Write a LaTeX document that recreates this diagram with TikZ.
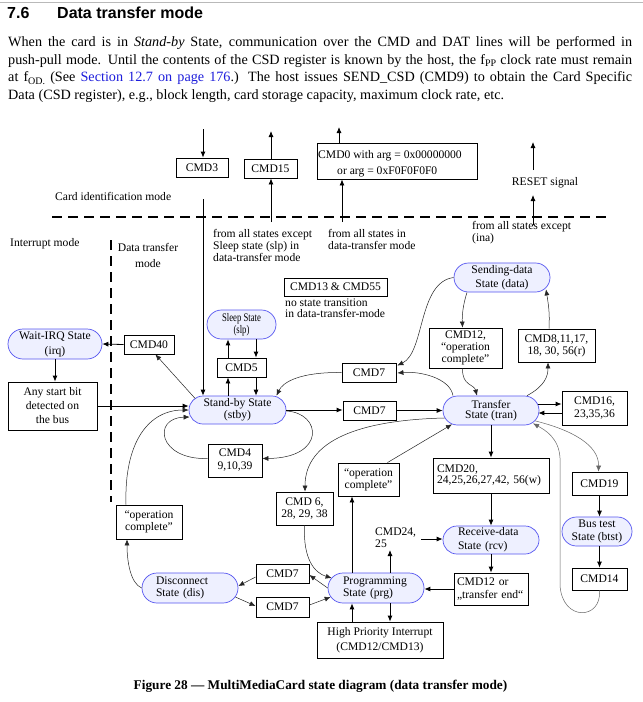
\documentclass[tikz,border=0pt]{standalone}
\usepackage{fontspec}
\setmainfont{Liberation Serif}
\newfontfamily\headfam{Liberation Sans}
\usepackage{graphicx}
\usetikzlibrary{arrows.meta,shapes.misc,calc}
\definecolor{stblue}{RGB}{85,85,240}
\definecolor{stfill}{RGB}{238,240,255}
\definecolor{linkblue}{RGB}{30,30,220}
\newcommand\dgmfont{\fontsize{11.6}{12.5}\selectfont}
\newcommand\bodyfont{\fontsize{14.2}{17.7}\selectfont}
\newcommand\subsc[1]{\raisebox{-2.5pt}{\fontsize{10}{10}\selectfont #1}}
\newcommand\condensed[1]{\scalebox{0.75}[1]{#1}}
\tikzset{
  box/.style={draw, line width=0.8pt, inner sep=0pt, align=center, font=\dgmfont},
  st/.style={draw=stblue, fill=stfill, rounded rectangle, line width=0.7pt, inner sep=0pt, align=center, font=\dgmfont},
  lbl/.style={inner sep=0pt, font=\dgmfont, align=left},
  bs/.style={font=\fontsize{11.6}{#1}\selectfont},
  arr/.style={-{Latex[length=6pt,width=5pt]}, line width=0.8pt},
  crv/.style={-{Latex[length=6pt,width=5pt]}, line width=0.5pt, draw=black!85},
  gcrv/.style={-{Latex[length=6pt,width=5pt]}, line width=0.5pt, draw=black!60},
  dashline/.style={line width=2pt, dash pattern=on 10pt off 6pt},
}
\begin{document}
\begin{tikzpicture}[x=1pt, y=-1pt]
\fill[white] (0,0) rectangle (643,702);
\useasboundingbox (0,0) rectangle (643,702);
\draw[gray!55, line width=1.2pt] (0,2.5) -- (643,2.5);

% heading and body text
\node[anchor=base west, inner sep=0pt, font=\headfam\bfseries\fontsize{16}{16}\selectfont] (h1) at (7,18.5) {7.6};
\node[anchor=base west, inner sep=0pt, font=\headfam\bfseries\fontsize{16}{16}\selectfont] (h2) at (57,18.5) {Data transfer mode};
\node[anchor=base west, inner sep=0pt, font=\bodyfont] (t1) at (8,46.5) {\makebox[624pt][s]{When the card is in \textit{Stand-by} State, communication over the CMD and DAT lines will be performed in}};
\node[anchor=base west, inner sep=0pt, font=\bodyfont] (t2) at (8,64.2) {\makebox[624pt][s]{push-pull mode. Until the contents of the CSD register is known by the host, the f\subsc{PP} clock rate must remain}};
\node[anchor=base west, inner sep=0pt, font=\bodyfont] (t3) at (8,81.9) {\makebox[624pt][s]{at f\subsc{OD.} (See \textcolor{linkblue}{Section 12.7 on page 176}.) The host issues SEND\_CSD (CMD9) to obtain the Card Specific}};
\node[anchor=base west, inner sep=0pt, font=\bodyfont] (t4) at (8,99.6) {Data (CSD register), e.g., block length, card storage capacity, maximum clock rate, etc.};

% top part
\node[box, minimum width=52pt, minimum height=19pt] (cmd3) at (202,167.5) {CMD3};
\node[box, minimum width=53pt, minimum height=19pt] (cmd15) at (270.5,168.5) {CMD15};
\node[box, minimum width=160pt, minimum height=36pt] (cmd0) at (397,161) {};
\node[lbl, anchor=west] (cmd0a) at (318,156) {CMD0 with arg = 0x00000000};
\node[lbl, anchor=west] (cmd0b) at (337,172) {or arg = 0xF0F0F0F0};
\node[lbl] (reset) at (545,183) {RESET signal};
\node[lbl, anchor=west] (cim) at (55,196) {Card identification mode};
\node[lbl, anchor=west] (im) at (10,244) {Interrupt mode};
\node[lbl, align=center, bs=16] (dtm) at (148,255) {Data transfer\\mode};
\node[lbl, anchor=west, bs=12] (fromslp) at (213,245) {from all states except\\Sleep state (slp) in\\data-transfer mode};
\node[lbl, anchor=west, bs=12] (fromdt) at (328,239) {from all states in\\data-transfer mode};
\node[lbl, anchor=west, bs=12] (fromina) at (472,233) {from all states except\\(ina)};

\coordinate (c3top) at (203,129);
\coordinate (c15top) at (271,131);
\coordinate (c15bot) at (271,222);
\coordinate (c0top) at (339,127);
\coordinate (c0bot) at (342,222);
\coordinate (rtop) at (533,142);
\coordinate (rtopst) at (533,170);
\coordinate (rbot) at (533,225);
\coordinate (rbotend) at (533,195);
\coordinate (stbyfrom) at (203,199);

\draw[arr] (c3top) -- (c3top |- cmd3.north);
\draw[arr] (c15top |- cmd15.north) -- (c15top);
\draw[arr] (c15bot) -- (c15bot |- cmd15.south);
\draw[arr] (c0top |- cmd0.north) -- (c0top);
\draw[arr] (c0bot) -- (c0bot |- cmd0.south);
\draw[arr] (rtopst) -- (rtop);
\draw[arr] (rbot) -- (rbotend);

\draw[dashline] (52,217) -- (608,217);
\draw[dashline] (111,240) -- (111,502);

% nodes
\node[st, minimum width=94pt, minimum height=30pt, bs=15] (irq) at (55,344) {Wait-IRQ State\\(irq)};
\node[box, minimum width=89pt, minimum height=48pt, bs=14] (anyst) at (52.5,406) {Any start bit\\detected on\\the bus};
\node[box, minimum width=50pt, minimum height=19pt] (cmd40) at (149,344.5) {CMD40};
\node[st, minimum width=97pt, minimum height=28pt, bs=12] (stby) at (237.5,410) {Stand-by State\\(stby)};
\node[st, minimum width=69pt, minimum height=29pt, bs=12] (sleep) at (241.5,324.5) {\condensed{Sleep State}\\\condensed{(slp)}};
\node[box, minimum width=49pt, minimum height=19pt] (cmd5) at (241.5,367.5) {CMD5};
\node[box, minimum width=103pt, minimum height=18pt] (cmd13) at (335.5,287) {CMD13 \& CMD55};
\node[lbl, anchor=west, bs=11] (nost) at (285,308.5) {no state transition\\in data-transfer-mode};
\node[box, minimum width=54pt, minimum height=19pt] (cmd7a) at (369,372.5) {CMD7};
\node[box, minimum width=53pt, minimum height=19pt] (cmd7b) at (369.5,410.5) {CMD7};
\node[st, minimum width=96pt, minimum height=29pt, bs=14] (data) at (502,277.5) {Sending-data\\State (data)};
\node[box, minimum width=73pt, minimum height=40pt, bs=12] (cmd12a) at (465.5,348) {CMD12,\\“operation\\complete”};
\node[box, minimum width=77pt, minimum height=33pt, bs=12] (cmd8) at (556.5,345.5) {CMD8,11,17,\\18, 30, 56(r)};
\node[st, minimum width=96pt, minimum height=29pt, bs=10.5] (tran) at (491,410.5) {Transfer\\State (tran)};
\node[box, minimum width=65pt, minimum height=34pt, bs=13] (cmd16) at (594.5,408) {CMD16,\\23,35,36};
\node[box, minimum width=54pt, minimum height=33pt, bs=13] (cmd4) at (235,460.5) {CMD4\\9,10,39};
\node[box, minimum width=66pt, minimum height=34pt, bs=12] (opc1) at (149,522) {“operation\\complete”};
\node[st, minimum width=96pt, minimum height=30pt, bs=12.5, text width=68pt, align=left] (dis) at (190,588) {Disconnect\\State (dis)};
\node[st, minimum width=96pt, minimum height=30pt, bs=12.5, text width=66pt, align=left] (prg) at (376,588) {Programming\\State (prg)};
\node[st, minimum width=96pt, minimum height=28pt, bs=14, text width=66pt, align=left] (rcv) at (491,540) {Receive-data\\State (rcv)};
\node[box, minimum width=116pt, minimum height=35pt, bs=11.5, text width=108pt, align=left] (cmd20) at (491,475.5) {CMD20,\\24,25,26,27,42, 56(w)};
\node[box, minimum width=74pt, minimum height=32pt, bs=13, text width=68pt, align=left] (cmd12b) at (491,589) {CMD12 or\\„transfer end“};
\node[box, minimum width=61pt, minimum height=33pt, bs=12] (opc2) at (368.5,479.5) {“operation\\complete”};
\node[box, minimum width=57pt, minimum height=33pt, bs=12.5] (cmd6) at (304.5,508.5) {CMD 6,\\28, 29, 38};
\node[box, minimum width=53pt, minimum height=19pt] (cmd7c) at (282.5,573.5) {CMD7};
\node[box, minimum width=53pt, minimum height=20pt] (cmd7d) at (282.5,607) {CMD7};
\node[box, minimum width=126pt, minimum height=36pt, bs=15] (hpi) at (380,640) {High Priority Interrupt\\(CMD12/CMD13)};
\node[lbl, anchor=west, bs=12] (cmd24) at (375,538) {CMD24,\\25};
\node[box, minimum width=55pt, minimum height=23pt] (cmd19) at (599.5,483.5) {CMD19};
\node[st, minimum width=70pt, minimum height=29pt, bs=12.5] (btst) at (597,531.5) {Bus test\\State (btst)};
\node[box, minimum width=55pt, minimum height=22pt] (cmd14) at (599.5,579) {CMD14};

\node[inner sep=0pt, font=\bfseries\fontsize{13.3}{14}\selectfont] (cap) at (320.5,686) {Figure 28 — MultiMediaCard state diagram (data transfer mode)};

% straight connectors
\draw[arr] (stbyfrom) -- (stbyfrom |- stby.north);
\draw[arr] (cmd40.west) -- (irq.east);
\draw[arr] (irq.south) -- (irq.south |- anyst.north);
\draw[arr] (anyst.east) -- (anyst.east -| stby.west);
\coordinate (x228) at ($(cmd5.north)+(-13.5,0)$);
\coordinate (x256) at ($(cmd5.north)+(14.5,0)$);
\draw[arr] (x228) -- (x228 |- sleep.south);
\draw[arr] (x256 |- sleep.south) -- (x256);
\draw[arr] (x228 |- stby.north) -- (x228 |- cmd5.south);
\draw[arr] (x256 |- cmd5.south) -- (x256 |- stby.north);
\draw[arr] (stby.east) -- (stby.east -| cmd7b.west);
\draw[arr] (cmd7b.east) -- (cmd7b.east -| tran.west);
\draw[arr] ($(tran.east)+(-1,-6.5)$) -- ($(cmd16.west)+(0,-4)$);
\draw[arr] ($(cmd16.west)+(0,5)$) -- ($(tran.east)+(-1,2.5)$);
\draw[arr] (tran.south) -- (cmd20.north);
\draw[arr] (cmd20.south) -- (rcv.north);
\draw[arr] (rcv.south) -- (cmd12b.north);
\draw[arr] (cmd12b.west) -- (cmd12b.west -| prg.east);
\coordinate (c24e) at (421,539);
\coordinate (c24s) at (390,550);
\draw[arr] (c24e) -- (c24e -| rcv.west);
\coordinate (x352) at ($(prg.north)+(-24,0)$);
\coordinate (x390) at ($(prg.north)+(14,0)$);
\draw[arr] (x352) -- (x352 |- opc2.south);
\draw[arr] (x390) -- (c24s);
\draw[arr] (x352 |- hpi.north) -- (x352 |- prg.south);
\draw[arr] (x390 |- prg.south) -- (x390 |- hpi.north);
\draw[arr] (cmd19.south) -- (cmd19.south |- btst.north);
\draw[arr] (cmd19.south |- btst.south) -- (cmd14.north);

% thin straight connectors
\draw[crv] ($(stby.west)+(6.5,-11.5)$) -- ($(cmd40.south east)+(-19,0)$);
\draw[crv] ($(cmd7c.west)+(0,3.5)$) -- ($(dis.east)+(0,-2)$);
\draw[crv] ($(dis.east)+(-3,9)$) -- ($(cmd7d.west)+(0,-1)$);
\draw[crv] (prg.west) -- ($(cmd7c.east)+(0,1.5)$);
\draw[crv] ($(cmd7d.east)+(0,-2)$) -- ($(prg.west)+(3,9)$);
\draw[crv] ($(opc2.north east)+(-12,0)$) -- ($(tran.south)+(-39,-1)$);

% curved connectors
\draw[crv] (data.west) .. controls (418,282) and (425,352) .. ($(cmd7a.east)+(1,-7)$);
\draw[crv] ($(tran.north)+(-38,0)$) .. controls (450,378) and (420,371) .. ($(cmd7a.east)+(1,0.5)$);
\draw[crv] (cmd7a.west) .. controls (300,372) and (283,382) .. ($(stby.north)+(39,0)$);
\draw[crv] ($(data.south)+(-35,0)$) .. controls (463,305) and (462,315) .. ($(cmd12a.north)+(-3,0)$);
\draw[crv] ($(cmd12a.south)+(-3,0)$) .. controls (462,386) and (474,384) .. ($(tran.north)+(-14,0)$);
\draw[crv] ($(cmd8.north)+(-7.5,0)$) .. controls (550,312) and (548,302) .. ($(data.south)+(44,-3)$);
\draw[crv] ($(tran.north)+(36,0)$) .. controls (545,386) and (548,376) .. ($(cmd8.south)+(-8.5,0)$);
\draw[crv] ($(stby.east)+(0,1)$) .. controls (322,413) and (326,458) .. ($(cmd4.east)+(0,-2)$);
\draw[crv] ($(cmd4.west)+(0,-2)$) .. controls (158,460) and (152,418) .. ($(stby.west)+(1,7)$);
\draw[crv] ($(opc1.north)+(-23,0)$) .. controls (124,440) and (150,410) .. (stby.west);
\draw[crv] (dis.west) .. controls (130,583) and (127,560) .. ($(opc1.south)+(-22,0)$);
\draw[crv] ($(tran.west)+(2,7.5)$) .. controls (360,420) and (305,440) .. ($(cmd6.north)+(0.5,0)$);
\draw[crv] (cmd6.south) .. controls (303,560) and (315,573) .. ($(prg.west)+(4,-10)$);
\draw[gcrv] ($(tran.south)+(44,-4.5)$) .. controls (572,430) and (599,445) .. ($(cmd19.north)+(-1,0)$);
\draw[gcrv] (cmd14.south) .. controls (602,620) and (562,622) .. (560,585) -- (560,458) .. controls (559,438) and (545,430) .. ($(tran.south)+(42,-2)$);
\end{tikzpicture}
\end{document}
